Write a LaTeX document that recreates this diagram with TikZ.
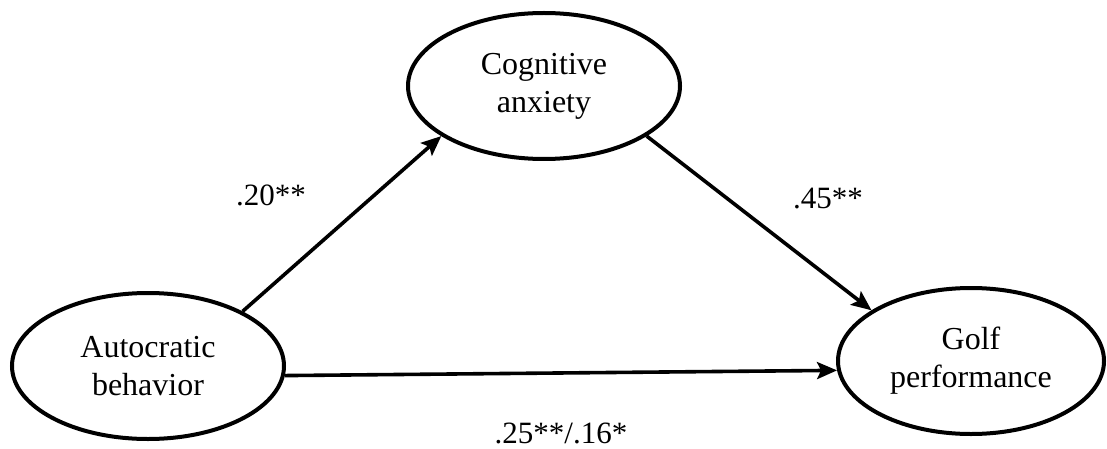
\documentclass[tikz,border=0pt]{standalone}
\usepackage{fontspec}
\setmainfont{Liberation Serif}
\usetikzlibrary{shapes.geometric,arrows.meta}
\begin{document}
\begin{tikzpicture}[x=1pt,y=-1pt,
  var/.style={ellipse,draw,line width=4pt,inner sep=0pt,align=center,
    font=\fontsize{32}{38}\selectfont},
  path/.style={line width=3.6pt,-{Stealth[length=20pt,width=17pt,inset=4pt]}},
  coef/.style={anchor=base,inner sep=0pt,font=\fontsize{31}{36}\selectfont}]
\useasboundingbox (0,0) rectangle (1107,449);
\node[var,minimum width=272pt,minimum height=146pt] (cog) at (544,86) {Cognitive\\anxiety};
\node[var,minimum width=272pt,minimum height=146pt] (auto) at (148,366) {Autocratic\\behavior};
\node[var,minimum width=266pt,minimum height=146pt] (golf) at (971,361) {Golf\\performance};
\draw[path] (auto.30) -- (cog.206);
\draw[path] (cog.334) -- (golf.153);
\draw[path] (auto.-4) -- (golf.184);
\node[coef] (c1) at (271,205) {.20**};
\node[coef] (c2) at (828,208) {.45**};
\node[coef] (c3) at (561,443) {.25**/.16*};
\end{tikzpicture}
\end{document}
